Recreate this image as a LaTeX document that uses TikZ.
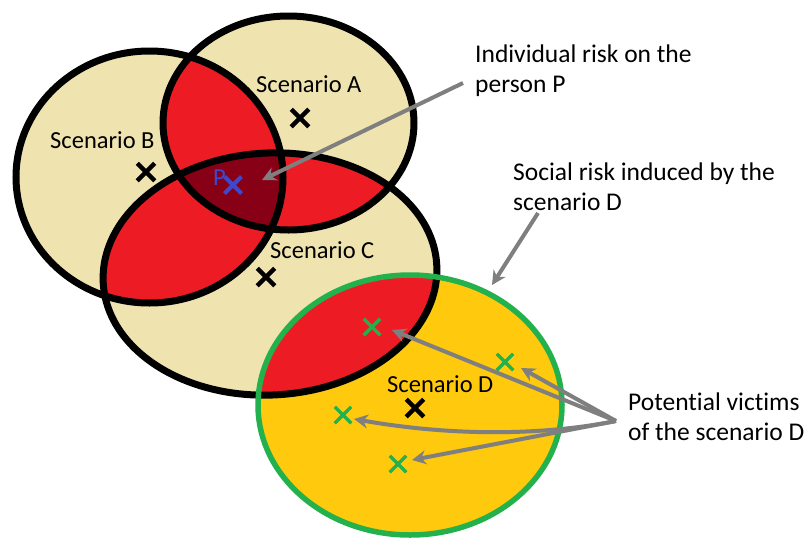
\documentclass[tikz,border=0pt]{standalone}
\usepackage{fontspec}
\setmainfont{Carlito}[Ligatures=NoCommon]
\usetikzlibrary{arrows.meta,shapes.misc}

\definecolor{sand}{RGB}{239,228,176}
\definecolor{riskred}{RGB}{237,28,36}
\definecolor{darkrisk}{RGB}{136,0,21}
\definecolor{gold}{RGB}{255,201,14}
\definecolor{victimgreen}{RGB}{34,177,76}
\definecolor{arrowgray}{RGB}{127,127,127}
\definecolor{personblue}{RGB}{63,72,204}

% zones of the scenarios
\newcommand{\zoneA}{(288.5,123) ellipse [x radius=125.5, y radius=107]}
\newcommand{\zoneB}{(149.5,177) ellipse [x radius=133.5, y radius=126]}
\newcommand{\zoneC}{(270,274) ellipse [x radius=167, y radius=121, rotate=3]}
\newcommand{\zoneD}{(410,405) ellipse [x radius=152, y radius=130]}

\begin{document}
\begin{tikzpicture}[x=1pt, y=-1pt,
  outline/.style={line width=7pt},
  xmark/.style={cross out, draw, line width=4.5pt, minimum size=13pt, inner sep=0pt},
  victim/.style={xmark, draw=victimgreen, line width=3.5pt, minimum size=13pt},
  scen/.style={anchor=base west, inner sep=0pt, font=\fontsize{24.5}{29}\selectfont},
  note/.style={anchor=base west, inner sep=0pt, align=left, font=\fontsize{25.5}{30}\selectfont},
  pointer/.style={draw=arrowgray, line width=4pt, -{Stealth[length=14pt,width=14pt]}}]

  \useasboundingbox (0,0) rectangle (806,544);

  % Zones A, B, C
  \fill[sand] \zoneA;
  \fill[sand] \zoneB;
  \fill[sand] \zoneC;

  % Overlaps of two zones
  \begin{scope}
    \clip \zoneA;
    \fill[riskred] \zoneB;
    \fill[riskred] \zoneC;
  \end{scope}
  \begin{scope}
    \clip \zoneB;
    \fill[riskred] \zoneC;
  \end{scope}

  % Overlap of the three zones
  \begin{scope}
    \clip \zoneA;
    \clip \zoneB;
    \fill[darkrisk] \zoneC;
  \end{scope}

  % Zone D
  \fill[gold] \zoneD;
  \begin{scope}
    \clip \zoneD;
    \fill[riskred] \zoneC;
  \end{scope}

  % Outlines
  \draw[outline] \zoneA;
  \draw[outline] \zoneB;
  \draw[outline] \zoneC;
  \draw[outline, draw=victimgreen, line width=5.5pt] \zoneD;

  % Scenario centres
  \node[xmark] (markA) at (300,118) {};
  \node[xmark] (markB) at (146,172) {};
  \node[xmark] (markC) at (266,277) {};
  \node[xmark] (markD) at (415,408) {};
  \node[xmark, draw=personblue, line width=4pt] (markP) at (233,185) {};

  % Victims
  \node[victim] (vic1) at (372,327) {};
  \node[victim] (vic2) at (505,362) {};
  \node[victim] (vic3) at (343,415) {};
  \node[victim] (vic4) at (398,464) {};

  % Scenario labels
  \node[scen] (labA) at (256,92) {Scenario A};
  \node[scen] (labB) at (50,148) {Scenario B};
  \node[scen] (labC) at (270,258) {Scenario C};
  \node[scen] (labD) at (387,392) {Scenario D};
  \node[scen, text=personblue] (labP) at (213,185) {P};

  % Notes
  \node[note] (noteInd) at (475,92) {Individual risk on the\\person P};
  \node[note] (noteSoc) at (513,210) {Social risk induced by the\\scenario D};
  \node[note] (noteVic) at (628,440) {Potential victims\\of the scenario D};

  % Arrows
  \coordinate (indStart) at (463,83);
  \coordinate (tipP) at (262,180);
  \coordinate (socStart) at (538,213);
  \coordinate (tipD) at (492,285);
  \coordinate (apex) at (616,421);
  \coordinate (tipV1) at (392,330);
  \coordinate (tipV2) at (521,368);
  \coordinate (tipV3) at (354,419);
  \coordinate (tipV4) at (412,460);

  \draw[pointer] (indStart) -- (tipP);
  \draw[pointer] (socStart) -- (tipD);
  \draw[pointer] (apex) -- (tipV1);
  \draw[pointer] (apex) -- (tipV2);
  \draw[pointer] (apex) .. controls (540,436) and (450,436) .. (tipV3);
  \draw[pointer] (apex) -- (tipV4);

\end{tikzpicture}
\end{document}
